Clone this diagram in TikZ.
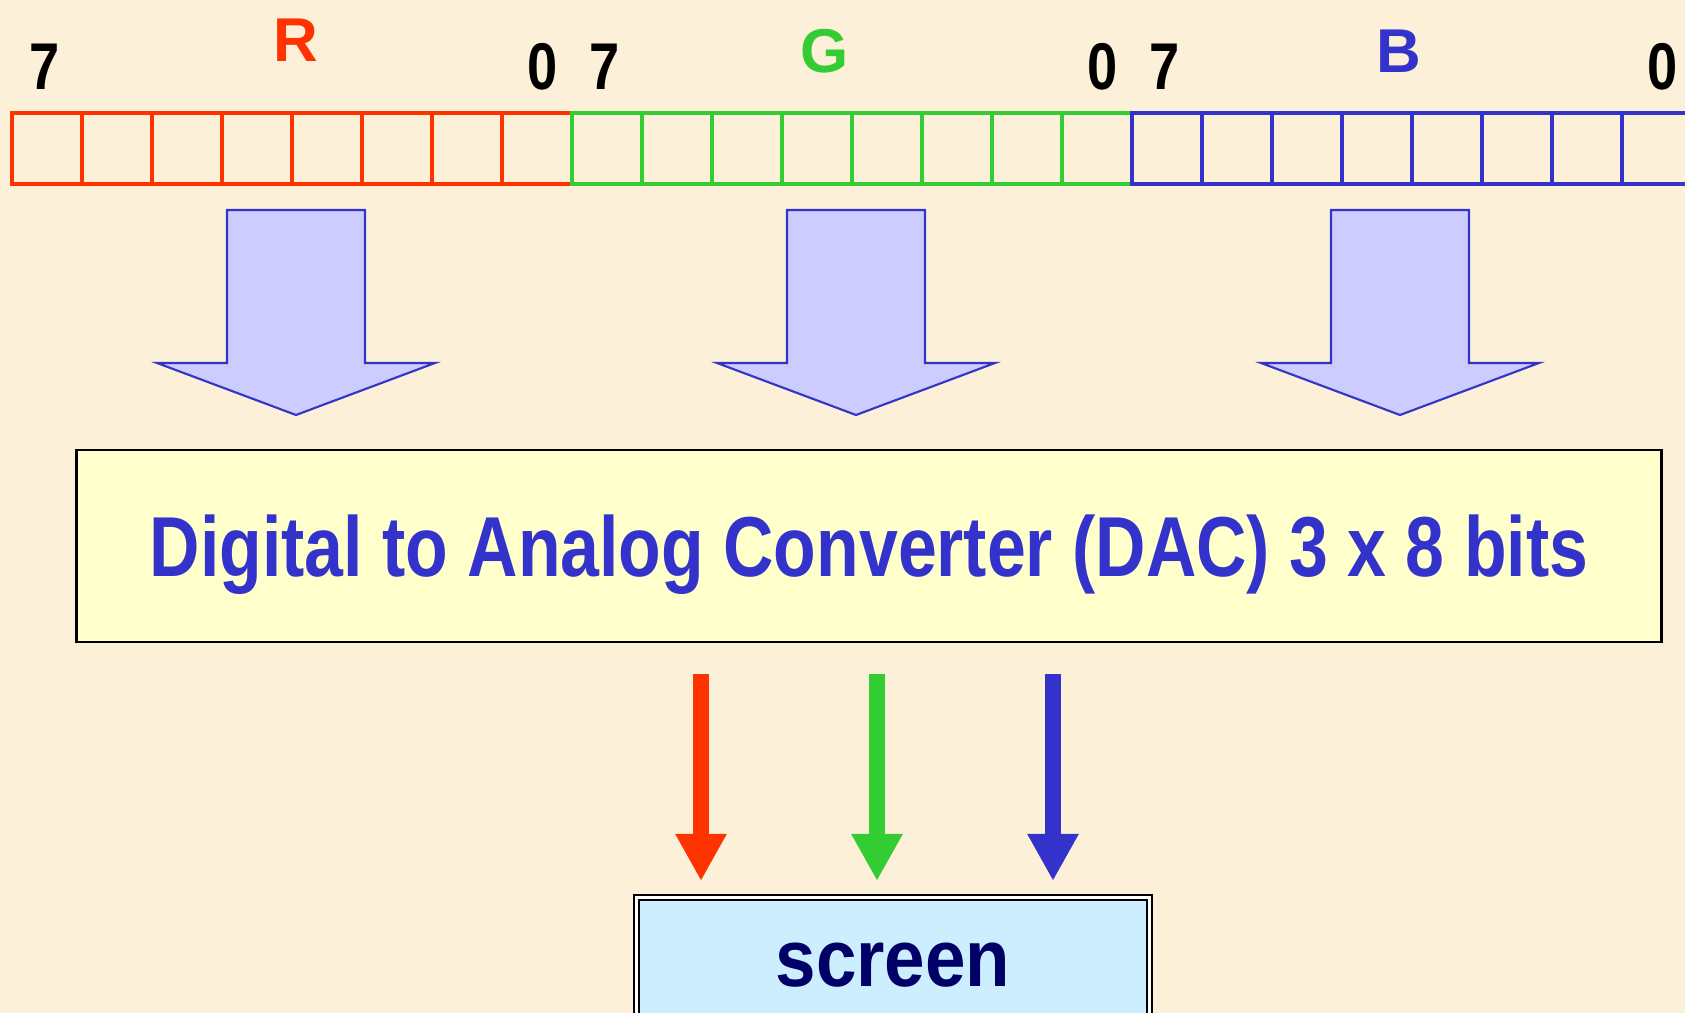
\documentclass[tikz,border=0pt]{standalone}
\usepackage{fontspec}
\setmainfont{Liberation Sans}
\newfontfamily\narrowsf[FakeStretch=0.82]{Liberation Sans}
\newfontfamily\screensf[FakeStretch=0.9]{Liberation Sans}
\usetikzlibrary{arrows.meta}

\definecolor{parchment}{HTML}{FCF0D8}
\definecolor{regred}{HTML}{FF3300}
\definecolor{reggreen}{HTML}{33CC33}
\definecolor{regblue}{HTML}{3333CC}
\definecolor{arrowfill}{HTML}{CCCCFF}
\definecolor{dacfill}{HTML}{FFFFCC}
\definecolor{screenfill}{HTML}{CCEEFF}
\definecolor{screentext}{HTML}{000066}

\begin{document}
\begin{tikzpicture}[x=0.01cm, y=-0.01cm,
    bitnum/.style={font=\narrowsf\bfseries\fontsize{18.8pt}{20pt}\selectfont, inner sep=0},
    chan/.style={font=\bfseries\fontsize{17.6pt}{20pt}\selectfont, inner sep=0},
    bigarrow/.style={fill=arrowfill, draw=regblue, line width=0.6pt, line join=miter},
    tap/.style={line width=0.16cm, -{Triangle[width=0.48cm, length=0.47cm]},
        shorten <=0.32cm, shorten >=0.165cm}
]

\useasboundingbox[fill=parchment] (0, 0) rectangle (1685, 1013);

% registers, 8 bits each
\foreach\c[count=\i from 0] in {regred, reggreen, regblue}{
    \foreach\k in {0,...,7}
        \draw[\c, line width=0.033cm] ({12 + 560 * \i + 70 * \k}, 113) rectangle +(70, 71);
    \node[bitnum] (hi\i) at ({45 + 560 * \i}, 67) {7};
    \node[bitnum] (lo\i) at ({543 + 560 * \i}, 67) {0};
}
\node[chan, text=regred] (lblR) at (296, 40) {R};
\node[chan, text=reggreen] (lblG) at (825, 51) {G};
\node[chan, text=regblue] (lblB) at (1399, 51) {B};

% block arrows
\foreach\cx in {296, 856, 1400}{
    \draw[bigarrow] ({\cx - 69}, 210) -- ({\cx + 69}, 210) -- ({\cx + 69}, 363)
        -- ({\cx + 139}, 363) -- (\cx, 415) -- ({\cx - 139}, 363)
        -- ({\cx - 69}, 363) -- cycle;
}

\node[draw=black, line width=0.025cm, fill=dacfill, outer sep=0,
    minimum width=15.84cm, minimum height=1.92cm,
    text height=0.61cm, text depth=0pt, text=regblue,
    font=\narrowsf\bfseries\fontsize{24.2pt}{28pt}\selectfont] (dac) at (869, 546)
    {Digital to Analog Converter (DAC) 3 x 8 bits};

\node[draw=black, line width=0.02cm, double=white, double distance=0.03cm,
    fill=screenfill, outer sep=0, minimum width=5.13cm, minimum height=1.35cm,
    text height=0.42cm, text depth=0pt, text=screentext,
    font=\screensf\bfseries\fontsize{23pt}{26pt}\selectfont] (scr) at (893, 965) {screen};

\coordinate (xr) at (701, 0);
\coordinate (xg) at (877, 0);
\coordinate (xb) at (1053, 0);
\draw[tap, regred] (dac.south -| xr) -- (scr.north -| xr);
\draw[tap, reggreen] (dac.south -| xg) -- (scr.north -| xg);
\draw[tap, regblue] (dac.south -| xb) -- (scr.north -| xb);

\end{tikzpicture}
\end{document}
